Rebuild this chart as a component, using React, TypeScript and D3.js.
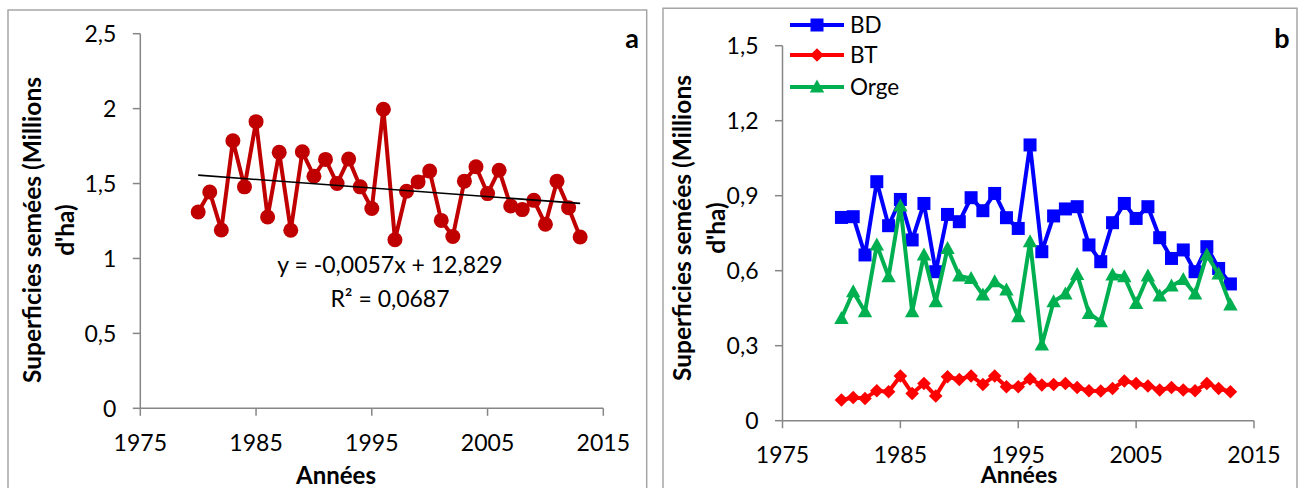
import React from "react";
import * as d3 from "d3";

const years = [1980, 1981, 1982, 1983, 1984, 1985, 1986, 1987, 1988, 1989, 1990, 1991, 1992, 1993, 1994, 1995, 1996, 1997, 1998, 1999, 2000, 2001, 2002, 2003, 2004, 2005, 2006, 2007, 2008, 2009, 2010, 2011, 2012, 2013];

const totalValues = [1.31, 1.444, 1.19, 1.786, 1.478, 1.913, 1.277, 1.708, 1.188, 1.712, 1.549, 1.661, 1.5, 1.663, 1.478, 1.333, 1.996, 1.125, 1.449, 1.511, 1.583, 1.254, 1.147, 1.516, 1.612, 1.433, 1.589, 1.35, 1.326, 1.388, 1.228, 1.516, 1.339, 1.143];

const bdValues = [0.813, 0.816, 0.663, 0.956, 0.78, 0.885, 0.723, 0.869, 0.596, 0.825, 0.796, 0.892, 0.84, 0.909, 0.812, 0.769, 1.103, 0.676, 0.819, 0.847, 0.856, 0.703, 0.636, 0.792, 0.869, 0.809, 0.856, 0.732, 0.649, 0.683, 0.596, 0.696, 0.609, 0.547];

const btValues = [0.083, 0.093, 0.089, 0.12, 0.116, 0.179, 0.109, 0.149, 0.099, 0.176, 0.165, 0.179, 0.145, 0.179, 0.136, 0.136, 0.167, 0.143, 0.145, 0.149, 0.133, 0.12, 0.119, 0.129, 0.159, 0.149, 0.139, 0.123, 0.133, 0.123, 0.12, 0.149, 0.129, 0.116];

const orgeValues = [0.409, 0.516, 0.436, 0.703, 0.576, 0.859, 0.436, 0.663, 0.476, 0.689, 0.579, 0.569, 0.503, 0.556, 0.523, 0.416, 0.716, 0.303, 0.476, 0.507, 0.585, 0.429, 0.396, 0.583, 0.576, 0.469, 0.579, 0.499, 0.539, 0.565, 0.507, 0.663, 0.587, 0.463];

const xTicks = [1975, 1985, 1995, 2005, 2015];
const yTicksA = [0, 0.5, 1, 1.5, 2, 2.5];
const yTicksB = [0, 0.3, 0.6, 0.9, 1.2, 1.5];

const seriesB = [
  { name: "BD", values: bdValues, color: "#0000FF", marker: "square" },
  { name: "BT", values: btValues, color: "#FF0000", marker: "diamond" },
  { name: "Orge", values: orgeValues, color: "#00B050", marker: "triangle" },
];

const equationText = "y = -0,0057x + 12,829";
const r2Text = "R² = 0,0687";

const FONT = "Lato, 'Open Sans', sans-serif";
const AXIS = "#868686";
const fmt = (v: number) => String(v).replace(".", ",");

function markerPath(type: string, cx: number, cy: number): string {
  if (type === "square") {
    const h = 6.5;
    return `M${cx - h},${cy - h}H${cx + h}V${cy + h}H${cx - h}Z`;
  }
  if (type === "diamond") {
    const h = 6.8;
    return `M${cx},${cy - h}L${cx + h},${cy}L${cx},${cy + h}L${cx - h},${cy}Z`;
  }
  const w = 7.2;
  return `M${cx},${cy - 7.5}L${cx + w},${cy + 5.5}L${cx - w},${cy + 5.5}Z`;
}

function Axes({ x, y, yTicks, x0, y0, yTop, xRight }: any) {
  return (
    <g>
      <line x1={x0} x2={x0} y1={yTop} y2={y0} stroke={AXIS} strokeWidth={1.5} />
      <line x1={x0} x2={xRight} y1={y0} y2={y0} stroke={AXIS} strokeWidth={1.5} />
      {yTicks.map((t: number) => (
        <g key={"y" + t}>
          <line x1={x0 - 7.5} x2={x0} y1={y(t)} y2={y(t)} stroke={AXIS} strokeWidth={1.5} />
          <text x={x0 - 24} y={y(t)} dy="0.36em" textAnchor="end" fontSize={23} fontFamily={FONT} fill="#000">
            {fmt(t)}
          </text>
        </g>
      ))}
      {xTicks.map((t) => (
        <g key={"x" + t}>
          <line x1={x(t)} x2={x(t)} y1={y0} y2={y0 + 7.5} stroke={AXIS} strokeWidth={1.5} />
          <text x={x(t)} y={y0 + 42.6} textAnchor="middle" fontSize={23} fontFamily={FONT} fill="#000">
            {t}
          </text>
        </g>
      ))}
    </g>
  );
}

function YTitle({ cy, b1, b2 }: any) {
  return (
    <g fontFamily={FONT} fontWeight="bold" fontSize={24.5} fill="#000">
      <text transform={`translate(${b1},${cy}) rotate(-90)`} textAnchor="middle">
        Superficies semées (Millions
      </text>
      <text transform={`translate(${b2},${cy}) rotate(-90)`} textAnchor="middle">
        d'ha)
      </text>
    </g>
  );
}

export default function App() {
  const xa = d3.scaleLinear().domain([1975, 2015]).range([140.3, 603.3]);
  const ya = d3.scaleLinear().domain([0, 2.5]).range([408.3, 33.7]);
  const lineA = d3
    .line<number>()
    .x((_, i) => xa(years[i]))
    .y((d) => ya(d));

  const mx = d3.mean(years) as number;
  const my = d3.mean(totalValues) as number;
  let num = 0;
  let den = 0;
  years.forEach((yr, i) => {
    num += (yr - mx) * (totalValues[i] - my);
    den += (yr - mx) * (yr - mx);
  });
  const slope = num / den;
  const intercept = my - slope * mx;
  const yFirst = years[0];
  const yLast = years[years.length - 1];

  const xb = d3.scaleLinear().domain([1975, 2015]).range([782.5, 1254]);
  const yb = d3.scaleLinear().domain([0, 1.5]).range([420.7, 45.7]);
  const lineB = d3
    .line<number>()
    .x((_, i) => xb(years[i]))
    .y((d) => yb(d));

  const legendY = [25, 55, 87];

  return (
    <svg
      width={1299}
      height={488}
      style={{ position: "absolute", left: 0, top: 0, background: "#fff" }}
    >
      <rect x={0} y={0} width={1299} height={488} fill="#fff" />
      <path d="M8,492V10H646.7V492" fill="none" stroke="#a6a6a6" strokeWidth={1.5} />
      <path d="M663,492V8.3H1297V492" fill="none" stroke="#a6a6a6" strokeWidth={1.5} />

      {/* Panel a */}
      <Axes x={xa} y={ya} yTicks={yTicksA} x0={140.3} y0={408.3} yTop={33.7} xRight={603.3} />
      <path d={lineA(totalValues) || ""} fill="none" stroke="#C00000" strokeWidth={4} strokeLinejoin="round" />
      {totalValues.map((v, i) => (
        <circle key={i} cx={xa(years[i])} cy={ya(v)} r={7.5} fill="#C00000" />
      ))}
      <line
        x1={xa(yFirst)}
        y1={ya(intercept + slope * yFirst)}
        x2={xa(yLast)}
        y2={ya(intercept + slope * yLast)}
        stroke="#000"
        strokeWidth={1.6}
      />
      <text x={390} y={273} textAnchor="middle" fontSize={23} fontFamily={FONT} fill="#000">
        {equationText}
      </text>
      <text x={390} y={307} textAnchor="middle" fontSize={23} fontFamily={FONT} fill="#000">
        {r2Text}
      </text>
      <text x={632} y={48} textAnchor="middle" fontSize={27} fontWeight="bold" fontFamily={FONT}>
        a
      </text>
      <YTitle cy={230} b1={41} b2={74} />
      <text x={336} y={484} textAnchor="middle" fontSize={24} fontWeight="bold" fontFamily={FONT}>
        Années
      </text>

      {/* Panel b */}
      <Axes x={xb} y={yb} yTicks={yTicksB} x0={782.5} y0={420.7} yTop={45.7} xRight={1254} />
      {seriesB.map((s) => (
        <g key={s.name}>
          <path d={lineB(s.values) || ""} fill="none" stroke={s.color} strokeWidth={4} strokeLinejoin="round" />
          {s.values.map((v, i) => (
            <path key={i} d={markerPath(s.marker, xb(years[i]), yb(v))} fill={s.color} />
          ))}
        </g>
      ))}
      {seriesB.map((s, k) => (
        <g key={"lg" + s.name}>
          <line x1={790} x2={844} y1={legendY[k]} y2={legendY[k]} stroke={s.color} strokeWidth={4} />
          <path d={markerPath(s.marker, 817, legendY[k])} fill={s.color} />
          <text x={850} y={legendY[k]} dy="0.36em" fontSize={22.5} fontFamily={FONT} fill="#000">
            {s.name}
          </text>
        </g>
      ))}
      <text x={1282} y={48} textAnchor="middle" fontSize={27} fontWeight="bold" fontFamily={FONT}>
        b
      </text>
      <YTitle cy={228} b1={691} b2={725} />
      <text x={1019} y={483} textAnchor="middle" fontSize={23} fontWeight="bold" fontFamily={FONT}>
        Années
      </text>
    </svg>
  );
}
